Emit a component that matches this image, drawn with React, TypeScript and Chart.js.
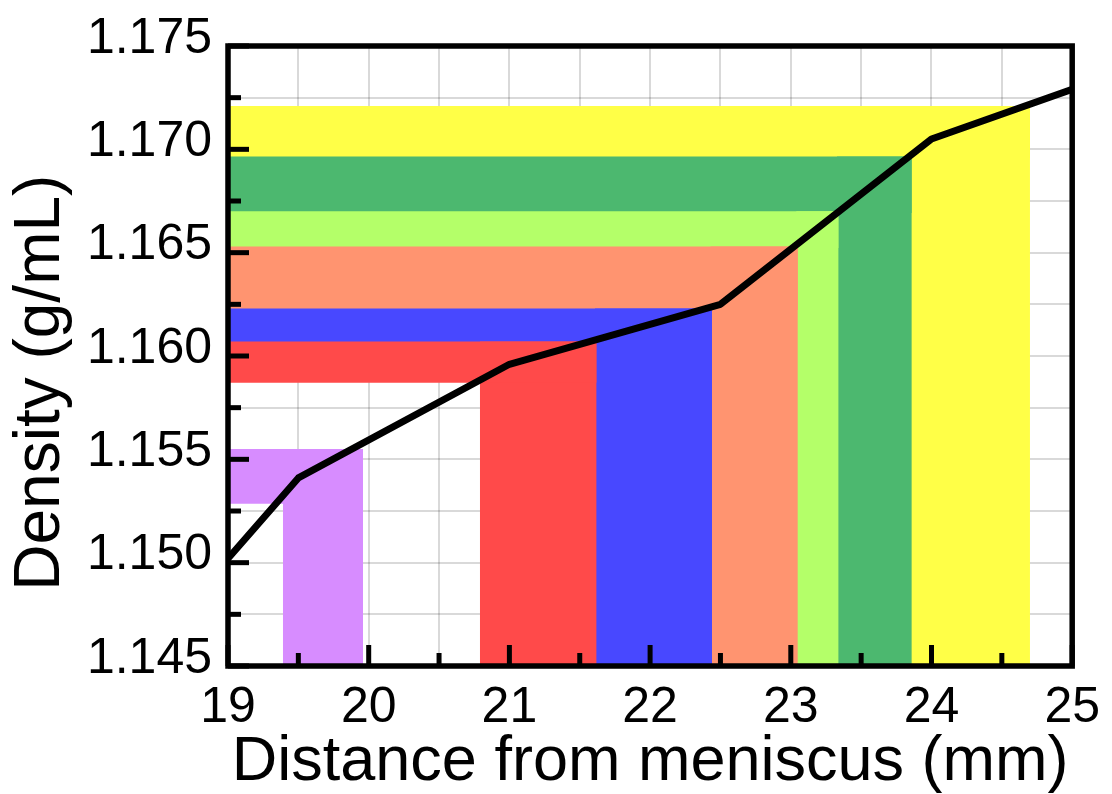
import React, { useEffect, useRef } from "react";
import { Chart, registerables } from "chart.js";

Chart.register(...registerables);

// Density gradient curve
const curveX = [19, 19.5, 21, 22.5, 24, 25];
const curveY = [1.1502, 1.1541, 1.1596, 1.1625, 1.1705, 1.1729];

// L-shaped fraction bands (horizontal part from x=19 to xHi between yLo..yHi,
// vertical part from xLo to xHi down to the bottom of the axis)
const bandNames = ["yellow", "green", "lightgreen", "salmon", "blue", "red", "purple"];
const bandColors = ["#FFFF47", "#4CB86F", "#B4FF69", "#FF9470", "#4848FF", "#FF4A4A", "#D78CFF"];
const bandYHi = [1.1721, 1.16965, 1.167, 1.1653, 1.1623, 1.1607, 1.1555];
const bandYLo = [1.16965, 1.167, 1.1653, 1.1623, 1.1607, 1.1587, 1.15285];
const bandXLo = [23.86, 23.34, 23.05, 22.44, 21.62, 20.79, 19.39];
const bandXHi = [24.7, 23.86, 23.34, 23.05, 22.44, 21.62, 19.96];

const xTickLabels = ["19", "20", "21", "22", "23", "24", "25"];
const yTickLabels = ["1.145", "1.150", "1.155", "1.160", "1.165", "1.170", "1.175"];

const X_MIN = 19;
const X_MAX = 25;
const Y_MIN = 1.145;
const Y_MAX = 1.175;

// tiny overlap under the neighbouring band to hide anti-aliasing seams
const X_EPS = 0.012;
const Y_EPS = 0.00008;

const FONT = "'Liberation Sans', Arial, Helvetica, sans-serif";

const framePlugin = {
  id: "frameTicks",
  afterDraw(chart: any) {
    const { ctx, chartArea } = chart;
    const { left, right, top, bottom } = chartArea;
    const xs = chart.scales.x;
    const ys = chart.scales.y;
    ctx.save();
    ctx.strokeStyle = "#000";
    ctx.lineWidth = 5;
    ctx.lineCap = "butt";
    xs.ticks.forEach((t: any) => {
      const px = xs.getPixelForValue(t.value);
      const len = t.label ? 21 : 13;
      ctx.beginPath();
      ctx.moveTo(px, bottom);
      ctx.lineTo(px, bottom - len);
      ctx.stroke();
    });
    ys.ticks.forEach((t: any) => {
      const py = ys.getPixelForValue(t.value);
      const len = t.label ? 21 : 13;
      ctx.beginPath();
      ctx.moveTo(left, py);
      ctx.lineTo(left + len, py);
      ctx.stroke();
    });
    ctx.lineWidth = 5.5;
    ctx.strokeRect(left, top, right - left, bottom - top);
    ctx.restore();
  },
};

export default function App() {
  const canvasRef = useRef<HTMLCanvasElement | null>(null);

  useEffect(() => {
    if (!canvasRef.current) return;
    Chart.defaults.font.family = FONT;
    Chart.defaults.color = "#000";

    const n = bandNames.length;
    const bandSets: any[] = [];
    bandNames.forEach((name, i) => {
      const hasBelow = i + 1 < n && Math.abs(bandYHi[i + 1] - bandYLo[i]) < 1e-9;
      const hasLeft = i + 1 < n && Math.abs(bandXHi[i + 1] - bandXLo[i]) < 1e-9;
      const yLo = hasBelow ? bandYLo[i] - Y_EPS : bandYLo[i];
      const xLo = hasLeft ? bandXLo[i] - X_EPS : bandXLo[i];
      const order = 2 + (n - i);
      bandSets.push({
        label: name + " (horizontal)",
        data: [
          { x: X_MIN, y: bandYHi[i] },
          { x: bandXHi[i], y: bandYHi[i] },
        ],
        fill: { value: yLo },
        backgroundColor: bandColors[i],
        borderColor: "transparent",
        borderWidth: 1,
        pointRadius: 0,
        order,
      });
      bandSets.push({
        label: name + " (vertical)",
        data: [
          { x: xLo, y: bandYHi[i] },
          { x: bandXHi[i], y: bandYHi[i] },
        ],
        fill: "start",
        backgroundColor: bandColors[i],
        borderColor: "transparent",
        borderWidth: 1,
        pointRadius: 0,
        order,
      });
    });

    const chart = new Chart(canvasRef.current, {
      type: "line",
      data: {
        datasets: [
          {
            label: "Density",
            data: curveX.map((x, i) => ({ x, y: curveY[i] })),
            borderColor: "#000",
            borderWidth: 7,
            pointRadius: 0,
            fill: false,
            tension: 0,
            borderJoinStyle: "round",
            order: 0,
          },
          ...bandSets,
        ],
      },
      options: {
        animation: false,
        responsive: true,
        maintainAspectRatio: false,
        layout: { padding: { left: 0, top: 44, right: 35, bottom: 0 } },
        plugins: {
          legend: { display: false },
          tooltip: { enabled: false },
        },
        scales: {
          x: {
            type: "linear",
            min: X_MIN,
            max: X_MAX,
            z: 1,
            border: { display: false },
            grid: { color: "rgba(0,0,0,0.15)", lineWidth: 2, drawTicks: false },
            ticks: {
              stepSize: 0.5,
              autoSkip: false,
              maxRotation: 0,
              padding: 12,
              color: "#000",
              font: { family: FONT, size: 50, lineHeight: 1.2 },
              callback: (v: any) => {
                const s = String(Number(v));
                return xTickLabels.includes(s) ? s : "";
              },
            },
            title: {
              display: true,
              text: "Distance from meniscus (mm)",
              color: "#000",
              font: { family: FONT, size: 63, lineHeight: 1 },
              padding: { top: 0, bottom: 0 },
            },
            afterFit: (s: any) => {
              s.height = 128;
            },
          },
          y: {
            type: "linear",
            min: Y_MIN,
            max: Y_MAX,
            z: 1,
            border: { display: false },
            grid: { color: "rgba(0,0,0,0.15)", lineWidth: 2, drawTicks: false },
            ticks: {
              stepSize: 0.0025,
              autoSkip: false,
              padding: 16,
              labelOffset: -7,
              color: "#000",
              font: { family: FONT, size: 50, lineHeight: 1.2 },
              callback: (v: any) => {
                const s = Number(v).toFixed(3);
                return yTickLabels.includes(s) && Math.abs(Number(v) - Number(s)) < 1e-6 ? s : "";
              },
            },
            title: {
              display: true,
              text: "Density (g/mL)   ",
              color: "#000",
              font: { family: FONT, size: 64, lineHeight: 1 },
              padding: { top: 9, bottom: 0 },
            },
            afterFit: (s: any) => {
              s.width = 228;
            },
          },
        },
      },
      plugins: [framePlugin],
    });

    return () => chart.destroy();
  }, []);

  return (
    <div style={{ position: "absolute", left: 0, top: 0, width: 1112, height: 794, background: "#fff" }}>
      <canvas ref={canvasRef} />
    </div>
  );
}
